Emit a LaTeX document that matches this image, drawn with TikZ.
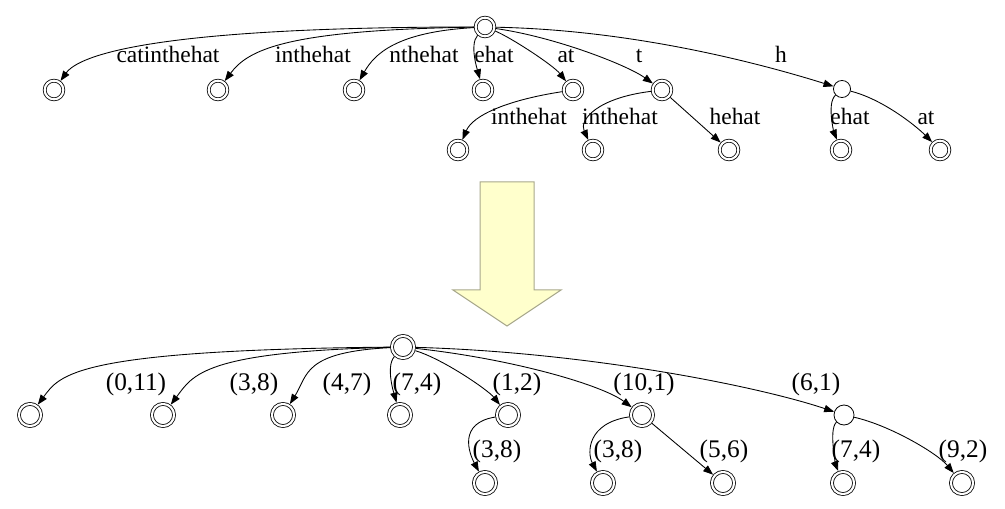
\documentclass[tikz,border=0pt]{standalone}
\usepackage{fontspec}
\setmainfont{Liberation Serif}
\usetikzlibrary{arrows.meta}
\definecolor{ink}{HTML}{000000}
\definecolor{arrfill}{HTML}{FFFFCC}
\definecolor{arrline}{HTML}{A8A88C}
\tikzset{
  accept/.style={circle,draw=ink,line width=0.6pt,double=white,double distance=1.6pt,
    minimum size=#1,inner sep=0pt,outer sep=1.4pt},
  accept/.default=14pt,
  state/.style={circle,draw=ink,line width=0.6pt,minimum size=#1,inner sep=0pt},
  state/.default=12.8pt,
  lab/.style={font=\fontsize{#1}{#1}\selectfont,anchor=base,inner sep=0pt,text=ink},
  lab/.default=17.6pt,
  arr/.style={-{Triangle[length=7.5pt,width=5.5pt]},line width=0.65pt,draw=ink},
}

\begin{document}
\begin{tikzpicture}[x=0.75pt,y=-0.75pt]
    \useasboundingbox (0,0) rectangle (1005,509);
    % suffix tree, string labels
    \node[accept] (s0) at (485,27) {};
    \node[accept] (s1) at (54,90) {};
    \node[accept] (s2) at (218,90) {};
    \node[accept] (s3) at (354,90) {};
    \node[accept] (s4) at (483,90) {};
    \node[accept] (s5) at (573,90) {};
    \node[accept] (s6) at (662,90) {};
    \node[state]  (s7) at (842,89) {};
    \node[accept] (s8) at (458,150) {};
    \node[accept] (s9) at (593,150) {};
    \node[accept] (s10) at (729,150) {};
    \node[accept] (s11) at (841,150) {};
    \node[accept] (s12) at (940,150) {};
    \draw[arr] (s0) .. controls +(-330,0) and +(25,-35) .. (s1);
    \draw[arr] (s0) .. controls +(-200,3) and +(30,-40) .. (s2);
    \draw[arr] (s0) .. controls +(-90,5) and +(20,-35) .. (s3);
    \draw[arr] (s0) .. controls +(-16,18) and +(-5,-18) .. (s4);
    \draw[arr] (s0) .. controls +(25,10) and +(-20,-25) .. (s5);
    \draw[arr] (s0) .. controls +(70,10) and +(-35,-25) .. (s6);
    \draw[arr] (s0) .. controls +(150,3) and +(-80,-25) .. (s7);
    \draw[arr] (s5) .. controls +(-65,10) and +(15,-35) .. (s8);
    \draw[arr] (s6) .. controls +(-65,8) and +(-14,-30) .. (s9);
    \draw[arr] (s6) -- (s10);
    \draw[arr] (s7) .. controls +(-16,15) and +(-6,-15) .. (s11);
    \draw[arr] (s7) .. controls +(40,10) and +(-25,-25) .. (s12);
    \node[lab] (l1) at (168,63) {catinthehat};
    \node[lab] (l2) at (313,63) {inthehat};
    \node[lab] (l3) at (424,63) {nthehat};
    \node[lab] (l4) at (494,63) {ehat};
    \node[lab] (l5) at (566,63) {at};
    \node[lab] (l6) at (639,63) {t};
    \node[lab] (l7) at (781,63) {h};
    \node[lab] (l8) at (529,125) {inthehat};
    \node[lab] (l9) at (620,125) {inthehat};
    \node[lab] (l10) at (735,125) {hehat};
    \node[lab] (l11) at (850,125) {ehat};
    \node[lab] (l12) at (926,125) {at};
    % big arrow
    \filldraw[fill=arrfill,draw=arrline,line width=0.75pt] (480,182) -- (534,182) -- (534,290)
      -- (561,290) -- (507,326) -- (453,290) -- (480,290) -- cycle;
    % suffix tree, index pairs
    \node[accept=16.6pt] (p0) at (403,347) {};
    \node[accept=16.6pt] (p1) at (30,415) {};
    \node[accept=16.6pt] (p2) at (163,415) {};
    \node[accept=16.6pt] (p3) at (283,415) {};
    \node[accept=16.6pt] (p4) at (400,415) {};
    \node[accept=16.6pt] (p5) at (508,415) {};
    \node[accept=16.6pt] (p6) at (642,415) {};
    \node[state=15pt]    (p7) at (844,415) {};
    \node[accept=16.6pt] (p8) at (485,483) {};
    \node[accept=16.6pt] (p9) at (603,483) {};
    \node[accept=16.6pt] (p10) at (723,483) {};
    \node[accept=16.6pt] (p11) at (843,483) {};
    \node[accept=16.6pt] (p12) at (962,483) {};
    \draw[arr] (p0) .. controls +(-330,3) and +(30,-40) .. (p1);
    \draw[arr] (p0) .. controls +(-200,5) and +(30,-40) .. (p2);
    \draw[arr] (p0) .. controls +(-100,5) and +(25,-40) .. (p3);
    \draw[arr] (p0) .. controls +(-18,20) and +(-5,-18) .. (p4);
    \draw[arr] (p0) .. controls +(40,12) and +(-20,-25) .. (p5);
    \draw[arr] (p0) .. controls +(110,12) and +(-40,-30) .. (p6);
    \draw[arr] (p0) .. controls +(180,5) and +(-90,-30) .. (p7);
    \draw[arr] (p5) .. controls +(-50,8) and +(-16,-30) .. (p8);
    \draw[arr] (p6) .. controls +(-55,8) and +(-16,-30) .. (p9);
    \draw[arr] (p6) -- (p10);
    \draw[arr] (p7) .. controls +(-16,15) and +(-6,-15) .. (p11);
    \draw[arr] (p7) .. controls +(45,10) and +(-25,-30) .. (p12);
    \node[lab=19pt] (q1) at (136,390) {(0,11)};
    \node[lab=19pt] (q2) at (254,390) {(3,8)};
    \node[lab=19pt] (q3) at (347,390) {(4,7)};
    \node[lab=19pt] (q4) at (417,390) {(7,4)};
    \node[lab=19pt] (q5) at (517,390) {(1,2)};
    \node[lab=19pt] (q6) at (644,390) {(10,1)};
    \node[lab=19pt] (q7) at (816,390) {(6,1)};
    \node[lab=19pt] (q8) at (497,457) {(3,8)};
    \node[lab=19pt] (q9) at (618,457) {(3,8)};
    \node[lab=19pt] (q10) at (724,457) {(5,6)};
    \node[lab=19pt] (q11) at (856,457) {(7,4)};
    \node[lab=19pt] (q12) at (963,457) {(9,2)};
\end{tikzpicture}
\end{document}
